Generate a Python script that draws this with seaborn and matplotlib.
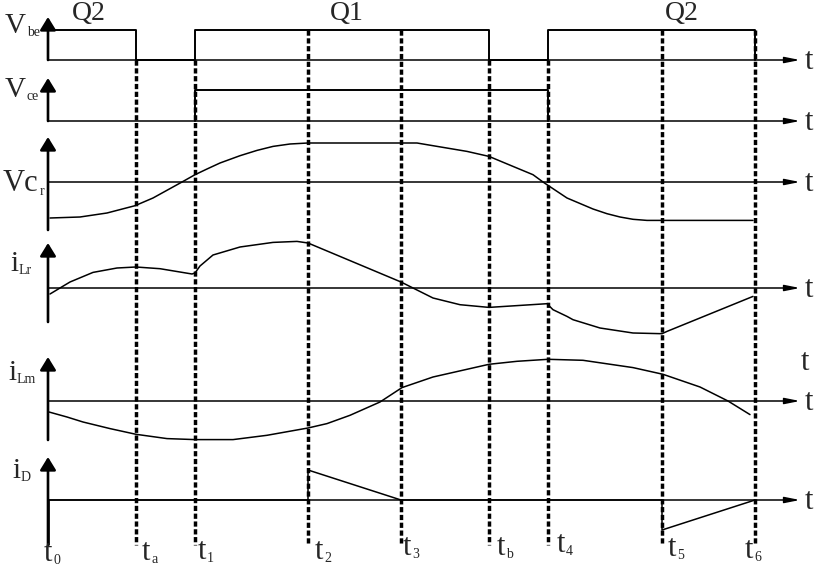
import numpy as np
import pandas as pd
import matplotlib
matplotlib.use("Agg")
import matplotlib.pyplot as plt
import seaborn as sns

# =====================================================
# DATA (time in drawing units, t0 = 0; amplitudes relative to each zero line)
# =====================================================

INSTANTS = ["t0", "ta", "t1", "t2", "t3", "tb", "t4", "t5", "t6"]
INSTANT_SUBS = ["0", "a", "1", "2", "3", "b", "4", "5", "6"]
INSTANT_TIMES = [0, 88, 147, 260, 353, 441, 500, 614, 707]
T = dict(zip(INSTANTS, INSTANT_TIMES))

# gate drive of Q1 / Q2
vbe_t = [T["t0"], T["ta"], T["ta"], T["t1"], T["t1"], T["tb"], T["tb"],
         T["t4"], T["t4"], T["t6"], T["t6"]]
vbe_v = [30, 30, 0, 0, 30, 30, 0, 0, 30, 30, 0]

# collector-emitter voltage
vce_t = [T["t1"], T["t1"], T["t4"], T["t4"]]
vce_v = [0, 31, 31, 0]

# resonant capacitor voltage
vcr_t = [2, 32, 59, 87, 105, 134, 147, 159, 172, 192, 209, 225, 242, 260,
         354, 369, 385, 419, 441, 465, 485, 495, 499, 519, 545, 559, 572,
         585, 599, 705]
vcr_v = [-36, -35, -31, -23.7, -16, 0, 7.3, 13, 19, 26.3, 31.6, 35.6, 38, 39,
         39, 39, 36.3, 30.6, 25.6, 15.6, 7.3, 0, -2.7, -16, -27, -31.7, -35,
         -37.3, -38.4, -38.4]

# resonant inductor current
ilr_t = [2, 22, 45, 69, 88, 112, 144, 147, 152, 165, 192, 225, 249, 260,
         353, 385, 412, 441, 499, 505, 519, 525, 552, 585, 614, 619, 705]
ilr_v = [-6, 6, 15.6, 20, 21, 19.3, 14, 15, 22, 33, 41, 45.6, 46.6, 45,
         6, -10, -16.7, -19.4, -15.7, -21.7, -28.4, -31.7, -40, -45, -45.7,
         -43.4, -8.4]

# magnetizing inductor current
ilm_t = [1, 19, 35, 62, 88, 119, 147, 185, 219, 260, 279, 302, 332,
         354, 385, 441, 469, 500, 535, 585, 615, 652, 680, 702]
ilm_v = [-11, -16, -21, -27.6, -33.3, -37.6, -38.6, -38.6, -34.3, -27, -22.6,
         -14.3, -1, 13.4, 24, 36.7, 39.7, 41.7, 40.7, 33.4, 26.7, 14, 0, -13.6]

# output diode current
id_t = [T["t0"], T["t2"], T["t2"], T["t3"], T["t5"], T["t5"], T["t6"]]
id_v = [0, 0, 30, 0, 0, -30, 0]

SIGNALS = ["Vbe", "Vce", "Vcr", "iLr", "iLm", "iD"]
traces = {
    "Vbe": (vbe_t, vbe_v),
    "Vce": (vce_t, vce_v),
    "Vcr": (vcr_t, vcr_v),
    "iLr": (ilr_t, ilr_v),
    "iLm": (ilm_t, ilm_v),
    "iD": (id_t, id_v),
}

# =====================================================
# LAYOUT (figure is 816 x 569 px, 1 unit = 1 px)
# =====================================================

H = 569
BASE = {"Vbe": H - 60, "Vce": H - 121, "Vcr": H - 182,
        "iLr": H - 288, "iLm": H - 401, "iD": H - 500}
YAXIS = {"Vbe": (0, 43), "Vce": (0, 43), "Vcr": (-48, 45),
         "iLr": (-34, 45), "iLm": (-39, 44), "iD": (-45, 43)}
DASH_TOP = {"ta": 60, "t1": 60, "t2": 30, "t3": 30, "tb": 60,
            "t4": 60, "t5": 30, "t6": 30}
DASH_BOTTOM = 545
X_END = 752

rows = []
for name in SIGNALS:
    tt, vv = traces[name]
    for k, (a, b) in enumerate(zip(tt, vv)):
        rows.append({"signal": name, "order": k, "time": a,
                     "level": BASE[name] + b})
df = pd.DataFrame(rows)

# =====================================================
# STYLE
# =====================================================

sns.set_theme(style="white")
plt.rcParams["font.family"] = ["Liberation Serif", "DejaVu Serif"]

fig = plt.figure(figsize=(8.16, 5.69), dpi=100)
ax = fig.add_axes([0, 0, 1, 1])

# =====================================================
# WAVEFORMS
# =====================================================

for name in SIGNALS:
    sub = df[df["signal"] == name].sort_values("order")
    lw = 1.4 if name in ("Vbe", "Vce") else 1.1
    sns.lineplot(data=sub, x="time", y="level", ax=ax, color="black",
                 lw=lw, estimator=None, sort=False, legend=False)

ax.set_xlim(-48, 768)
ax.set_ylim(0, H)
ax.axis("off")

# =====================================================
# AXES (zero lines + vertical arrows)
# =====================================================

for name in SIGNALS:
    b = BASE[name]
    ax.annotate("", xy=(X_END, b), xytext=(0, b),
                arrowprops=dict(arrowstyle="-|>,head_length=0.9,head_width=0.18",
                                lw=1.1, color="black", mutation_scale=10,
                                shrinkA=0, shrinkB=0))
    lo, hi = YAXIS[name]
    ax.annotate("", xy=(0, b + hi), xytext=(0, b + lo),
                arrowprops=dict(arrowstyle="-|>,head_length=0.65,head_width=0.4",
                                lw=1.9, color="black", mutation_scale=12,
                                shrinkA=0, shrinkB=0))
    ax.text(757, b - 9, "t", fontsize=22, va="baseline", ha="left")

# bottom of the t0 axis
ax.plot([0, 0], [BASE["iD"], H - DASH_BOTTOM], color="black", lw=1.9,
        solid_capstyle="butt")

# stray t label near iLm
ax.text(753, H - 370, "t", fontsize=22, va="baseline", ha="left")

# =====================================================
# DASHED TIME MARKERS
# =====================================================

for name in INSTANTS[1:]:
    ax.plot([T[name], T[name]], [H - DASH_TOP[name], H - DASH_BOTTOM],
            color="black", lw=2.5, linestyle=(0, (1.5, 0.75)),
            dash_capstyle="butt")


def sub_label(x, y, main, sub, size, subsize, dx=0.5, dy=0.0):
    txt = ax.text(x, y, main, fontsize=size, va="baseline", ha="left")
    ax.annotate(sub, xy=(1, 0), xycoords=txt, xytext=(dx, dy),
                textcoords="offset points", fontsize=subsize,
                va="bottom", ha="left")


# signal names
sub_label(5 - 48, H - 33, "V", "be", 21, 10)
sub_label(5 - 48, H - 97, "V", "ce", 21, 10)
sub_label(3 - 48, H - 191, "Vc", "r", 22, 10)
sub_label(10 - 48, H - 271, "i", "Lr", 21, 10)
sub_label(8 - 48, H - 380, "i", "Lm", 21, 10)
sub_label(12 - 48, H - 478, "i", "D", 21, 10)

# switch labels
ax.text(72 - 48, H - 20, "Q2", fontsize=20, va="baseline", ha="left")
ax.text(330 - 48, H - 20, "Q1", fontsize=20, va="baseline", ha="left")
ax.text(665 - 48, H - 20, "Q2", fontsize=20, va="baseline", ha="left")

# instant labels
label_dx = [-4, 6, 3, 7, 2, 8, 9, 6, -10]
label_y = [561, 560, 559, 559, 555, 555, 552, 556, 558]
for name, s, dx, yy in zip(INSTANTS, INSTANT_SUBS, label_dx, label_y):
    sub_label(T[name] + dx, H - yy, "t", s, 22, 10, dy=1.0)

fig.savefig("out.png", dpi=100)
plt.close(fig)
